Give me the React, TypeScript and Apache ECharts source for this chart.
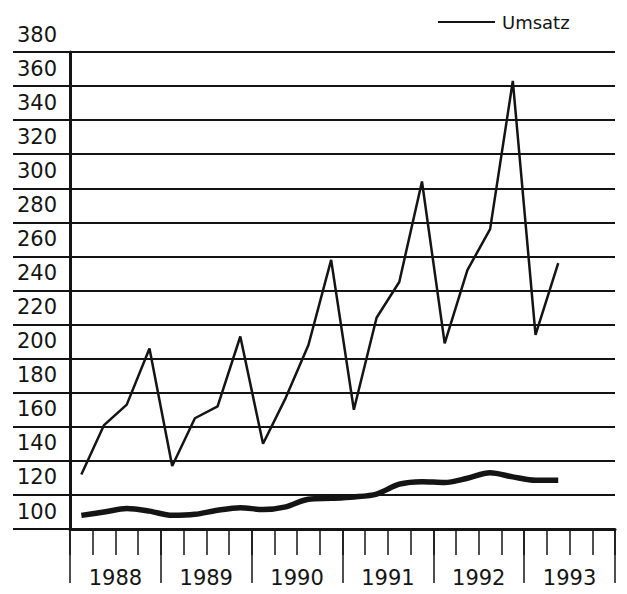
import React, { useEffect, useRef } from "react";
import * as echarts from "echarts";

const quarters = [
  "1988 Q1", "1988 Q2", "1988 Q3", "1988 Q4",
  "1989 Q1", "1989 Q2", "1989 Q3", "1989 Q4",
  "1990 Q1", "1990 Q2", "1990 Q3", "1990 Q4",
  "1991 Q1", "1991 Q2", "1991 Q3", "1991 Q4",
  "1992 Q1", "1992 Q2", "1992 Q3", "1992 Q4",
  "1993 Q1", "1993 Q2", "1993 Q3", "1993 Q4",
];
const years = ["1988", "1989", "1990", "1991", "1992", "1993"];
const umsatz = [132, 161, 173, 206, 137, 165, 172, 213, 150, 177, 208, 258, 170, 224, 245, 304, 209, 252, 276, 363, 214, 256];
const basis = [108, 110, 112, 110.5, 108, 108.6, 111, 112.5, 111.4, 113, 117.5, 118, 118.8, 120.5, 126.3, 127.8, 127.3, 129.8, 133, 130.6, 128.6, 128.6];
const yMin = 100;
const yMax = 380;
const yStep = 20;

const FONT = "DejaVu Sans";
const INK = "#141414";

export default function App() {
  const ref = useRef<HTMLDivElement>(null);
  useEffect(() => {
    if (!ref.current) return;
    const chart = echarts.init(ref.current, null, { renderer: "svg" });
    chart.setOption({
      animation: false,
      backgroundColor: "#ffffff",
      grid: { left: 70, right: 12, top: 52, bottom: 65, containLabel: false },
      legend: {
        data: ["Umsatz"],
        left: 433,
        top: 8,
        icon: "rect",
        itemWidth: 57,
        itemHeight: 2,
        selectedMode: false,
        textStyle: { fontFamily: FONT, fontSize: 18, color: INK, padding: [0, 0, 0, 2] },
      },
      xAxis: [
        {
          type: "category",
          data: quarters,
          boundaryGap: true,
          position: "bottom",
          axisLine: { show: true, onZero: false, lineStyle: { color: INK, width: 3 } },
          axisTick: { show: true, interval: 0, length: 26, lineStyle: { color: INK, width: 1.5 } },
          axisLabel: { show: false },
          splitLine: { show: false },
        },
        {
          type: "category",
          data: years,
          boundaryGap: true,
          position: "bottom",
          axisLine: { show: false, onZero: false },
          axisTick: { show: true, interval: 0, length: 54, lineStyle: { color: INK, width: 1.5 } },
          axisLabel: {
            show: true,
            interval: 0,
            margin: 38,
            fontFamily: FONT,
            fontSize: 21,
            color: INK,
          },
          splitLine: { show: false },
        },
      ],
      yAxis: {
        type: "value",
        min: yMin,
        max: yMax,
        interval: yStep,
        axisLine: { show: true, lineStyle: { color: INK, width: 3 } },
        axisTick: { show: true, length: 57, lineStyle: { color: INK, width: 2 } },
        axisLabel: {
          show: true,
          align: "left",
          verticalAlign: "bottom",
          margin: 53,
          fontFamily: FONT,
          fontSize: 21,
          color: INK,
          padding: [0, 0, 7, 0],
        },
        splitLine: { show: true, lineStyle: { color: INK, width: 2 } },
      },
      series: [
        {
          name: "Umsatz",
          type: "line",
          xAxisIndex: 0,
          data: umsatz,
          symbol: "none",
          lineStyle: { color: INK, width: 2.5 },
          itemStyle: { color: INK },
        },
        {
          name: "Basis",
          type: "line",
          xAxisIndex: 0,
          data: basis,
          symbol: "none",
          smooth: 0.3,
          lineStyle: { color: INK, width: 5.5 },
          itemStyle: { color: INK },
        },
      ],
    });
    return () => chart.dispose();
  }, []);
  return (
    <div
      ref={ref}
      style={{ position: "absolute", left: 0, top: 0, width: 627, height: 594, background: "#fff" }}
    />
  );
}
